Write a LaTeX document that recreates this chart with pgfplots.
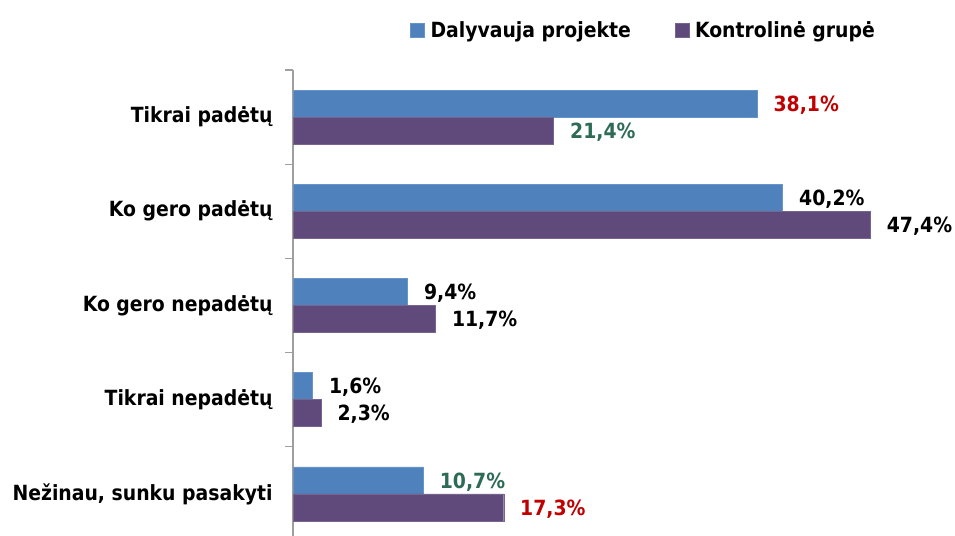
\documentclass[border=0pt]{standalone}
\usepackage{fontspec}
\setmainfont{DejaVu Sans Condensed}
\usepackage{pgfplots}
\pgfplotsset{compat=1.18}
\definecolor{serA}{HTML}{4F81BD}
\definecolor{serB}{HTML}{604A7B}
\definecolor{labred}{HTML}{C00000}
\definecolor{labgreen}{HTML}{2E6B57}
\begin{document}
\begin{tikzpicture}
\useasboundingbox (0,0) rectangle (955bp,536bp);
\begin{axis}[
 at={(293bp,0bp)}, anchor=south west,
 scale only axis, width=662bp, height=466bp,
 xmin=0, xmax=54.35,
 ymin=-0.447, ymax=4.5,
 axis x line=none, axis y line*=left,
 axis line style={-, draw=gray!75, line width=1.2bp},
 ytick={0,1,2,3,4},
 yticklabels={{Nežinau, sunku pasakyti},{Tikrai nepadėtų},{Ko gero nepadėtų},{Ko gero padėtų},{Tikrai padėtų}},
 major tick length=0pt,
 minor ytick={0.5,1.5,2.5,3.5,4.5},
 minor tick length=8bp, tick align=outside,
 tick style={draw=gray!75, line width=1.2bp},
 yticklabel style={font=\bfseries\fontsize{21}{24}\selectfont, xshift=-17bp},
 xbar, bar width=27bp,
 nodes near coords, point meta=explicit symbolic,
 every node near coord/.append style={font=\bfseries\fontsize{21}{24}\selectfont, anchor=west, xshift=13bp, yshift=-1.5bp, text=black},
 legend columns=2,
 legend style={at={(0.177,1.086)}, anchor=west, draw=none, fill=none, inner sep=0pt,
   font=\bfseries\fontsize{21}{24}\selectfont,
   /tikz/every even column/.append style={column sep=42bp}},
 legend image code/.code={\fill[#1] (0bp,-7bp) rectangle (14bp,7bp); \path[draw=none,fill=none] (0bp,0bp) -- (18bp,0bp);},
]
\addplot[fill=serA, draw=serA!85!white, bar shift=13.5bp] coordinates {
 (38.1,4) [\textcolor{labred}{38,1\%}]
 (40.2,3) [40,2\%]
 (9.4,2) [9,4\%]
 (1.6,1) [1,6\%]
 (10.7,0) [\textcolor{labgreen}{10,7\%}]
};
\addplot[fill=serB, draw=serB!85!white, bar shift=-13.5bp] coordinates {
 (21.4,4) [\textcolor{labgreen}{21,4\%}]
 (47.4,3) [47,4\%]
 (11.7,2) [11,7\%]
 (2.3,1) [2,3\%]
 (17.3,0) [\textcolor{labred}{17,3\%}]
};
\legend{Dalyvauja projekte, Kontrolinė grupė}
\end{axis}
\end{tikzpicture}
\end{document}
